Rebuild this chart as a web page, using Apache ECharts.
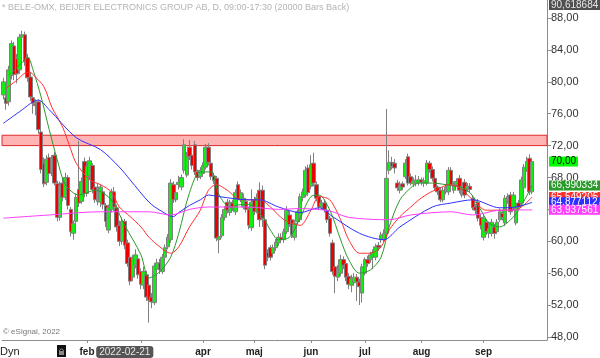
<!DOCTYPE html>
<html>
<head>
<meta charset="utf-8">
<title>BELE-OMX</title>
<script src="https://cdn.jsdelivr.net/npm/echarts@6/dist/echarts.min.js"></script>
<style>
  html, body { margin: 0; padding: 0; background: #fff; }
  #chart { width: 600px; height: 358px; }
</style>
</head>
<body>
<div id="chart"></div>
<script>
// daily bars, first session 2021-12-15; rows are [open, high, low, close]
const firstDay = '2021-12-15';
const holidays = ['2021-12-24', '2021-12-31', '2022-01-06', '2022-04-15', '2022-04-18', '2022-05-26', '2022-06-06', '2022-06-24'];
const emptySessions = 5; // blank space right of the last bar

const ohlc = [
  [78.35, 80.5, 77.8, 80.0], [78.0, 78.6, 76.5, 77.3], [77.5, 82.0, 77.0, 81.5], [80.8, 85.2, 80.3, 84.8],
  [84.5, 85.0, 80.2, 80.9], [82.9, 83.5, 79.8, 81.0], [81.5, 86.0, 81.0, 85.6], [85.6, 86.4, 85.0, 85.9],
  [85.9, 86.3, 82.0, 82.5], [83.0, 83.5, 80.0, 80.5], [80.6, 81.2, 77.6, 78.1], [78.0, 78.5, 76.0, 77.3],
  [77.2, 77.8, 75.8, 77.0], [77.5, 77.8, 73.5, 74.0], [73.7, 74.0, 68.5, 69.0], [69.8, 70.5, 66.8, 67.2],
  [67.4, 70.8, 67.0, 70.3], [70.5, 71.0, 68.0, 68.5], [68.6, 70.8, 68.2, 70.4], [70.8, 71.2, 67.0, 67.3],
  [67.2, 67.6, 62.5, 63.0], [63.0, 67.5, 62.6, 67.0], [67.3, 68.0, 65.0, 65.5], [65.5, 68.6, 65.2, 68.0],
  [68.0, 68.3, 64.0, 64.5], [64.0, 64.3, 60.6, 61.2], [61.0, 62.6, 60.2, 62.2], [62.5, 66.0, 62.0, 65.5],
  [66.5, 72.6, 64.3, 64.8], [65.0, 68.0, 64.7, 67.5], [70.0, 70.5, 65.5, 66.0], [66.0, 70.0, 65.6, 69.4],
  [68.2, 70.6, 67.8, 70.1], [69.5, 69.8, 66.0, 66.5], [66.8, 67.2, 64.8, 65.2], [65.0, 67.3, 64.5, 66.8],
  [64.9, 67.2, 64.3, 66.8], [66.2, 66.6, 64.0, 64.6], [64.5, 64.8, 61.8, 62.5], [61.4, 64.6, 61.0, 64.2],
  [64.0, 66.6, 63.6, 66.2], [66.2, 66.8, 63.8, 64.3], [64.2, 64.6, 61.2, 61.8], [62.0, 62.6, 59.4, 60.0],
  [60.0, 63.0, 59.6, 62.5], [62.5, 62.8, 59.0, 59.5], [59.8, 60.2, 56.8, 57.2], [58.0, 58.5, 54.5, 55.0],
  [55.5, 58.3, 55.0, 57.8], [57.0, 59.0, 56.6, 58.3], [57.8, 58.2, 55.3, 55.8], [56.2, 56.6, 54.0, 54.6],
  [54.5, 56.8, 54.0, 56.2], [55.8, 56.3, 52.5, 53.0], [54.5, 54.8, 49.8, 52.6], [53.0, 53.5, 51.6, 52.4],
  [52.3, 57.3, 52.0, 56.9], [56.5, 57.8, 56.0, 57.3], [57.3, 57.8, 55.9, 56.4], [56.2, 58.4, 55.9, 58.0],
  [58.0, 59.6, 57.7, 59.2], [59.3, 60.9, 59.0, 60.5], [60.2, 67.8, 59.8, 67.3], [67.1, 67.5, 64.8, 65.2],
  [65.2, 66.5, 64.9, 66.1], [67.1, 68.2, 66.5, 67.4], [66.8, 68.4, 66.4, 68.0], [68.9, 72.8, 68.5, 72.1],
  [68.3, 71.2, 68.0, 70.6], [71.8, 72.7, 70.2, 70.6], [70.8, 71.6, 69.0, 69.5], [72.1, 72.6, 68.3, 68.7],
  [68.7, 69.0, 67.6, 68.0], [68.1, 69.3, 67.8, 68.9], [68.5, 69.9, 68.2, 69.5], [69.3, 72.2, 69.0, 71.8],
  [71.8, 72.3, 69.5, 69.9], [69.8, 70.2, 67.7, 68.1], [68.2, 68.6, 67.2, 67.6], [67.9, 68.2, 60.0, 60.4],
  [60.2, 61.0, 58.5, 60.6], [60.7, 63.4, 60.4, 63.0], [63.0, 64.4, 62.6, 64.0], [64.9, 65.3, 63.5, 63.9],
  [63.6, 65.2, 63.2, 64.9], [64.8, 65.2, 63.8, 64.2], [63.7, 66.5, 63.3, 66.1], [67.1, 67.5, 64.8, 65.2],
  [65.2, 66.5, 64.9, 66.1], [64.3, 66.0, 64.0, 65.4], [65.0, 65.4, 63.6, 64.0], [64.0, 64.3, 61.5, 62.0],
  [61.7, 66.5, 61.3, 64.9], [65.2, 65.6, 63.3, 63.7], [63.8, 66.0, 63.5, 65.5], [66.4, 67.4, 61.8, 62.7],
  [66.4, 67.0, 61.8, 62.9], [62.7, 63.0, 56.5, 57.0], [58.6, 59.0, 57.5, 58.0], [59.2, 59.5, 57.6, 58.0],
  [58.5, 59.6, 58.0, 59.2], [59.2, 60.3, 58.8, 59.9], [59.8, 61.0, 59.4, 60.5], [60.5, 61.0, 59.8, 60.2],
  [60.2, 61.6, 59.8, 61.2], [61.2, 64.4, 60.9, 63.9], [63.3, 63.8, 61.8, 62.1], [62.7, 63.0, 60.4, 60.8],
  [60.5, 62.7, 60.1, 62.3], [62.5, 64.0, 62.2, 63.7], [62.7, 66.0, 62.4, 65.6], [65.5, 66.6, 65.0, 66.2],
  [65.8, 69.4, 65.5, 68.9], [69.2, 69.6, 65.7, 66.1], [66.9, 70.8, 66.5, 69.6], [69.8, 71.1, 66.9, 67.3],
  [67.1, 67.5, 65.0, 65.4], [65.6, 66.0, 64.0, 64.3], [64.3, 65.2, 64.0, 64.8], [64.8, 65.2, 63.6, 64.0],
  [63.9, 64.2, 62.3, 62.7], [62.9, 63.2, 60.6, 61.0], [59.8, 60.2, 55.8, 56.2], [56.8, 57.2, 53.5, 55.6],
  [55.5, 57.0, 55.0, 56.5], [56.0, 58.3, 55.6, 57.7], [57.7, 58.1, 56.5, 57.0], [57.2, 57.5, 55.0, 55.5],
  [55.6, 56.0, 54.0, 54.6], [54.5, 55.8, 53.6, 55.3], [54.8, 56.0, 54.4, 55.5], [55.5, 55.9, 52.5, 54.9],
  [54.9, 55.3, 52.0, 54.3], [53.5, 57.2, 52.3, 56.8], [56.0, 58.0, 55.7, 57.7], [57.7, 58.2, 56.8, 57.2],
  [57.7, 58.7, 57.3, 58.3], [58.0, 59.0, 56.5, 58.6], [58.0, 59.7, 57.6, 59.3], [59.5, 59.9, 58.8, 59.2],
  [60.2, 61.2, 59.8, 60.8], [60.2, 61.5, 59.9, 61.0], [61.0, 76.6, 60.7, 67.9], [68.9, 71.4, 68.4, 69.9],
  [69.9, 70.6, 69.0, 69.4], [69.8, 70.3, 68.5, 69.2], [67.3, 67.7, 66.3, 66.7], [66.4, 67.5, 66.0, 67.1],
  [67.2, 67.5, 66.4, 66.8], [68.1, 70.3, 67.8, 69.8], [70.6, 71.0, 67.0, 67.3], [68.1, 68.5, 67.0, 67.3],
  [67.2, 68.0, 66.8, 67.6], [67.3, 68.3, 66.9, 67.7], [67.4, 68.2, 67.0, 67.7], [67.7, 68.0, 67.0, 67.4],
  [67.3, 68.0, 66.8, 67.6], [67.3, 70.2, 67.0, 69.8], [69.8, 70.1, 68.6, 69.0], [69.0, 69.4, 67.5, 67.9],
  [67.9, 68.2, 66.3, 66.7], [66.8, 67.0, 65.8, 66.2], [66.4, 66.8, 64.9, 65.2], [65.2, 66.8, 64.9, 66.4],
  [66.2, 67.2, 65.9, 66.8], [66.2, 69.3, 65.8, 68.9], [68.9, 69.3, 66.7, 67.1], [66.4, 67.5, 66.0, 67.1],
  [67.1, 67.9, 66.8, 67.5], [67.9, 68.3, 66.0, 66.4], [65.8, 67.3, 65.5, 66.9], [67.4, 67.8, 65.4, 65.8],
  [66.6, 67.3, 66.2, 66.9], [66.9, 67.3, 66.1, 66.5], [65.4, 65.8, 63.9, 64.2], [64.3, 64.7, 63.4, 63.9],
  [64.9, 65.3, 62.5, 62.9], [63.0, 63.4, 61.5, 62.0], [60.5, 63.3, 60.1, 62.9], [62.4, 62.8, 60.8, 61.2],
  [61.0, 62.0, 60.4, 61.6], [61.0, 62.8, 60.6, 62.4], [61.8, 62.2, 60.3, 61.0], [61.2, 62.8, 60.9, 62.4],
  [62.7, 64.1, 62.4, 63.7], [63.5, 63.9, 62.6, 63.0], [62.3, 65.8, 61.9, 65.4], [65.0, 66.0, 64.7, 65.6],
  [65.8, 66.2, 63.3, 63.7], [64.2, 66.2, 63.9, 65.8], [62.3, 64.7, 62.0, 64.3], [64.8, 65.2, 64.0, 64.3],
  [64.8, 68.1, 64.5, 67.7], [66.7, 69.7, 66.4, 69.3], [69.0, 70.6, 68.7, 70.0], [70.4, 70.9, 65.8, 66.2],
  [66.2, 70.3, 65.9, 70.0]
];

// moving averages as [bar index, value]
const maGreen = [
  [3, 81.0], [5, 81.8], [7, 82.4], [9, 83.1], [11, 81.5], [14, 78.1], [17, 74.0], [20, 70.2], [23, 67.1],
  [28, 65.8], [34, 66.4], [40, 65.2], [45, 62.0], [51, 58.3], [54, 55.4], [58, 56.2], [62, 58.0], [65, 61.0],
  [69, 66.1], [73, 68.7], [77, 68.7], [80, 65.8], [84, 64.3], [88, 64.6], [91, 64.6], [96, 63.1], [99, 61.4],
  [102, 60.2], [106, 60.5], [110, 62.9], [114, 65.6], [117, 65.8], [121, 63.9], [125, 60.2], [128, 57.7],
  [132, 56.0], [136, 56.4], [140, 58.0], [143, 61.8], [147, 65.2], [151, 66.7], [154, 67.3], [159, 67.3],
  [164, 67.1], [169, 66.8], [173, 66.1], [177, 63.9], [180, 62.3], [184, 61.8], [188, 62.7], [191, 63.9],
  [196, 66.990334]
];
const maRed = [
  [1, 79.2], [5, 80.2], [8, 81.1], [10, 81.2], [11, 80.9], [15, 79.4], [18, 76.8], [22, 74.3], [25, 71.5],
  [27, 69.8], [32, 67.7], [36, 67.1], [40, 66.2], [43, 64.3], [47, 63.1], [51, 61.8], [54, 60.5], [58, 59.3],
  [62, 58.5], [65, 59.3], [69, 61.8], [73, 63.9], [76, 66.4], [79, 67.1], [83, 66.4], [88, 65.2], [95, 65.2],
  [99, 64.3], [104, 62.7], [110, 62.0], [114, 63.9], [117, 65.6], [121, 65.2], [125, 62.7], [128, 60.2],
  [132, 58.5], [136, 58.5], [140, 59.3], [143, 61.4], [147, 63.1], [151, 64.3], [154, 65.2], [158, 66.1],
  [162, 66.7], [165, 67.1], [169, 66.7], [174, 65.2], [179, 63.9], [184, 63.9], [189, 63.9], [192, 64.3],
  [196, 65.549205]
];
const maBlue = [
  [0, 74.8], [7, 76.5], [11, 77.5], [13, 77.7], [17, 76.5], [27, 73.0], [36, 71.5], [43, 69.3], [47, 67.7],
  [54, 64.9], [58, 63.9], [63, 63.1], [65, 63.6], [69, 64.5], [73, 65.2], [76, 65.8], [80, 65.6], [91, 65.2],
  [95, 65.2], [102, 64.3], [110, 63.6], [117, 64.2], [122, 63.1], [132, 61.0], [141, 60.2], [147, 61.8],
  [159, 64.3], [166, 64.8], [174, 65.2], [184, 64.2], [190, 64.3], [196, 64.877112]
];
const maMagenta = [
  [0, 62.9], [17, 63.3], [36, 63.7], [54, 63.7], [62, 63.3], [69, 64.0], [76, 64.3], [91, 64.3], [102, 64.0],
  [110, 64.1], [121, 63.8], [128, 63.0], [143, 62.7], [151, 63.3], [166, 63.7], [174, 63.3], [184, 63.9],
  [196, 63.937561]
];

const resistanceBand = [72.0, 73.3];
const priceTicks = [48, 52, 56, 60, 64, 68, 72, 76, 80, 84, 88];
const yMin = 47.62;
const yMax = 90.26;
const topPrice = 90.618684;
const cursorDate = '2022-02-21';
const monthNames = ['jan', 'feb', 'mar', 'apr', 'maj', 'jun', 'jul', 'aug', 'sep', 'okt', 'nov', 'dec'];
const labelledMonths = ['02', '03', '04', '05', '06', '07', '08', '09'];

const FONT = '"Liberation Sans", Arial, sans-serif';

function tradingDays(start, count) {
  const out = [];
  const d = new Date(start + 'T00:00:00Z');
  while (out.length < count) {
    const s = d.toISOString().slice(0, 10);
    const wd = d.getUTCDay();
    if (wd !== 0 && wd !== 6 && holidays.indexOf(s) < 0) out.push(s);
    d.setUTCDate(d.getUTCDate() + 1);
  }
  return out;
}
const dates = tradingDays(firstDay, ohlc.length + emptySessions);

function isMonthStart(i) {
  if (i <= 0 || i >= ohlc.length) return false;
  const m = dates[i].slice(5, 7);
  return m !== dates[i - 1].slice(5, 7) && labelledMonths.indexOf(m) >= 0;
}

function comma(v, digits) {
  return v.toFixed(digits).replace('.', ',');
}

function lastLabel(value, digits, bg, fg) {
  return {
    silent: true,
    symbol: 'none',
    animation: false,
    lineStyle: { color: 'rgba(0,0,0,0)', width: 1 },
    label: {
      show: true, position: 'end', distance: 2,
      formatter: () => comma(value, digits),
      backgroundColor: bg, color: fg,
      fontSize: 10, lineHeight: 10, padding: [0, 2], fontFamily: FONT
    },
    data: [{ yAxis: value }]
  };
}

function maSeries(name, pts, color) {
  return {
    name: name, type: 'line', smooth: 0.3, showSymbol: false, silent: true,
    data: pts.map(p => [dates[p[0]], p[1]]),
    lineStyle: { color: color, width: 1 },
    itemStyle: { color: color },
    z: 3,
    markLine: lastLabel(pts[pts.length - 1][1], 6, color, '#fff')
  };
}

const lastClose = ohlc[ohlc.length - 1][3];

const chart = echarts.init(document.getElementById('chart'));
chart.setOption({
  animation: false,
  backgroundColor: '#fff',
  title: {
    text: '* BELE-OMX, BEIJER ELECTRONICS GROUP AB, D, 09:00-17:30 (20000 Bars Back)',
    left: 2, top: 3, padding: 0,
    textStyle: { fontSize: 9, color: '#b4b4b4', fontWeight: 'normal', fontFamily: FONT }
  },
  grid: { left: 2, right: 53, top: 0, bottom: 18, containLabel: false },
  xAxis: {
    type: 'category',
    data: dates,
    boundaryGap: true,
    axisLine: { show: true, lineStyle: { color: '#8c8c8c' } },
    axisTick: { show: true, alignWithLabel: true, length: 3, interval: (i) => isMonthStart(i), lineStyle: { color: '#8c8c8c' } },
    axisLabel: {
      interval: (i) => isMonthStart(i),
      formatter: (v) => monthNames[parseInt(v.slice(5, 7), 10) - 1],
      color: '#222', fontSize: 10, fontWeight: 'bold', margin: 7, fontFamily: FONT
    },
    splitLine: { show: false },
    axisPointer: {
      show: true, type: 'line', value: cursorDate, status: 'show', triggerTooltip: false,
      lineStyle: { color: 'rgba(0,0,0,0)' },
      label: { show: true, backgroundColor: '#555', color: '#e6e6e6', fontSize: 10, padding: [1, 3], margin: 6, fontFamily: FONT }
    }
  },
  yAxis: {
    type: 'value', position: 'right', min: yMin, max: yMax,
    splitLine: { show: false },
    axisLine: { show: true, lineStyle: { color: '#8c8c8c' } },
    axisTick: { show: true, length: 4, customValues: priceTicks, lineStyle: { color: '#8c8c8c' } },
    axisLabel: { customValues: priceTicks, formatter: (v) => comma(v, 2), color: '#333', fontSize: 11, margin: 4, fontFamily: FONT }
  },
  series: [
    {
      name: 'BELE', type: 'candlestick',
      data: ohlc.map(r => [r[0], r[3], r[2], r[1]]),
      barWidth: 4,
      itemStyle: {
        color: '#11ee11', color0: '#ee0000',
        borderColor: '#808080', borderColor0: '#808080', borderWidth: 1
      },
      markArea: {
        silent: true,
        itemStyle: { color: '#ffb4b4', borderColor: '#e02828', borderWidth: 1 },
        data: [[{ yAxis: resistanceBand[0] }, { yAxis: resistanceBand[1] }]]
      },
      markLine: lastLabel(lastClose, 2, '#00ff00', '#000')
    },
    maSeries('MA10', maGreen, '#2a9a2a'),
    maSeries('MA20', maRed, '#ff3030'),
    maSeries('MA50', maBlue, '#2f2fff'),
    maSeries('MA200', maMagenta, '#ff3cff')
  ],
  graphic: [
    { type: 'text', left: 549, top: 0, z: 100,
      style: { text: comma(topPrice, 6), font: '10px ' + FONT, fill: '#e6e6e6', backgroundColor: '#505050', padding: [0, 2] } },
    { type: 'text', left: 3, top: 328,
      style: { text: '\u00a9 eSignal, 2022', font: '8px ' + FONT, fill: '#777' } },
    { type: 'text', left: 0, top: 346,
      style: { text: 'Dyn', font: '11px ' + FONT, fill: '#222' } },
    { type: 'rect', shape: { x: 57, y: 345, width: 9, height: 12 }, style: { fill: '#111' } },
    { type: 'rect', shape: { x: 59, y: 351, width: 5, height: 4 }, style: { fill: '#888' } },
    { type: 'arc', shape: { cx: 61.5, cy: 351, r: 2, startAngle: Math.PI, endAngle: 2 * Math.PI }, style: { stroke: '#888', fill: null, lineWidth: 1 } }
  ]
});
</script>
</body>
</html>
